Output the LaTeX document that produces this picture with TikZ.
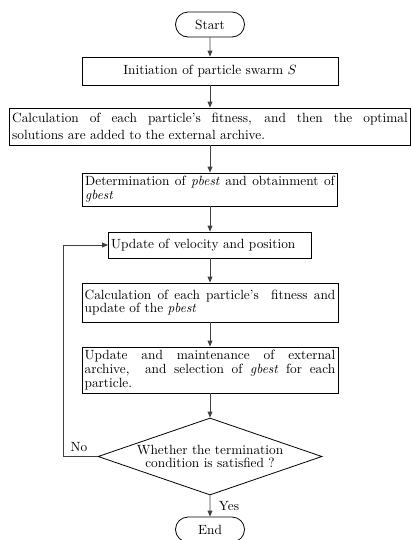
\documentclass[tikz,border=0pt]{standalone}
\usepackage{amsmath, amssymb}
\usepackage{xcolor}
\usepackage{tikz}
\usetikzlibrary{arrows.meta, shapes.geometric, shapes.misc}

\begin{document}
\begin{tikzpicture}[
  x=0.75pt, y=-0.75pt,
  term/.style={rounded rectangle, draw=black, line width=0.6pt, minimum width=51.75pt, minimum height=18.75pt, inner sep=0pt, font=\fontsize{10}{12}\selectfont},
  proc/.style={rectangle, draw=black, line width=0.6pt, align=justify, inner xsep=2pt, inner ysep=0pt, font=\fontsize{10}{10.3}\selectfont},
  decide/.style={diamond, draw=black, line width=0.6pt, shape aspect=2.9, inner xsep=-6pt, inner ysep=-2pt, minimum width=168pt, minimum height=57.75pt, align=center, font=\fontsize{10}{9.75}\selectfont},
  arr/.style={-{Triangle[length=4.5pt, width=3.6pt]}, line width=0.7pt, draw=black!75}
]
  \clip (0,0) rectangle (411,540);
  \node[term] (start) at (210,24.5) {Start};
  \node[proc, align=center, minimum width=192pt, minimum height=21pt] (init) at (210,71) {Initiation of particle swarm $S$};
  \node[proc, text width=296.75pt, minimum height=27.75pt, font=\fontsize{10}{12.75}\selectfont] (calc1) at (210,126.5)
    {Calculation of each particle's fitness, and then the optimal\linebreak solutions are added to the external archive.};
  \node[proc, text width=187.25pt, minimum height=24.75pt] (best) at (210,189.5)
    {Determination of \textit{pbest} and obtainment of\linebreak \textit{gbest}};
  \node[proc, align=left, text width=148.25pt, minimum height=19.5pt] (upd) at (210,245) {Update of velocity and position};
  \node[proc, text width=188pt, minimum height=29.25pt] (calc2) at (210,302.5)
    {Calculation of each particle's\ \ fitness and\linebreak update of the \textit{pbest}};
  \node[proc, text width=188pt, minimum height=34.5pt] (arch) at (210,370)
    {Update and maintenance of external\linebreak archive,\ \ and selection of \textit{gbest} for each\linebreak particle.};
  \node[decide] (dec) at (210,456.5) {Whether the termination\\condition is satisfied ?};
  \node[term] (stop) at (210,529.5) {End};

  \foreach \a/\b in {start/init, init/calc1, calc1/best, best/upd, upd/calc2, calc2/arch, arch/dec, dec/stop}
    \draw[arr] (\a) -- (\b);

  \coordinate (fb) at (63,456.5);
  \draw[arr] (dec.west) -- (fb) |- (upd.west);
  \node[font=\fontsize{10}{12}\selectfont] (nolab) at (79,447) {No};
  \node[font=\fontsize{10}{12}\selectfont] (yeslab) at (229,506) {Yes};
\end{tikzpicture}
\end{document}
